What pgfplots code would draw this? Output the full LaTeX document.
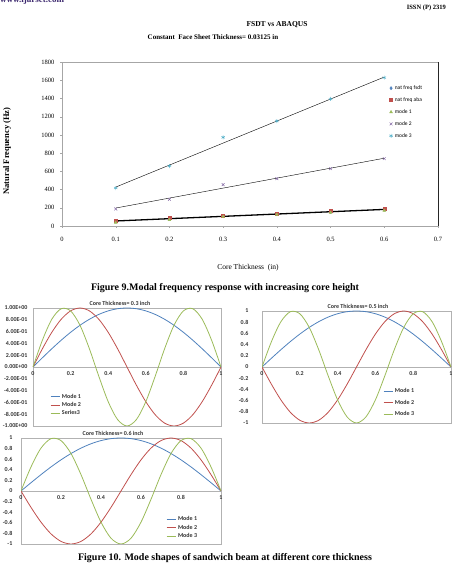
\documentclass[border=0pt]{standalone}
\usepackage{pgfplots}
\pgfplotsset{compat=1.18}
\usepackage{pgfplotstable}
\usepackage{fontspec}
\setmainfont{Liberation Serif}
\newfontfamily\calibri{Carlito}
\definecolor{xblue}{RGB}{79,129,189}
\definecolor{xred}{RGB}{192,80,77}
\definecolor{xgreen}{RGB}{155,187,89}
\definecolor{xpurple}{RGB}{128,100,162}
\definecolor{xcyan}{RGB}{75,172,198}
\definecolor{hdr}{RGB}{60,40,110}

\pgfplotstableread{
x m1 m2a m2b m3
0 0 0 0 0
0.05 0.1564 0.3090 -0.3090 0.4540
0.10 0.3090 0.5878 -0.5878 0.8090
0.15 0.4540 0.8090 -0.8090 0.9877
0.20 0.5878 0.9511 -0.9511 0.9511
0.25 0.7071 1 -1 0.7071
0.30 0.8090 0.9511 -0.9511 0.3090
0.35 0.8910 0.8090 -0.8090 -0.1564
0.40 0.9511 0.5878 -0.5878 -0.5878
0.45 0.9877 0.3090 -0.3090 -0.8910
0.50 1 0 0 -1
0.55 0.9877 -0.3090 0.3090 -0.8910
0.60 0.9511 -0.5878 0.5878 -0.5878
0.65 0.8910 -0.8090 0.8090 -0.1564
0.70 0.8090 -0.9511 0.9511 0.3090
0.75 0.7071 -1 1 0.7071
0.80 0.5878 -0.9511 0.9511 0.9511
0.85 0.4540 -0.8090 0.8090 0.9877
0.90 0.3090 -0.5878 0.5878 0.8090
0.95 0.1564 -0.3090 0.3090 0.4540
1.00 0 0 0 0
}\modes

\pgfplotsset{modeshape/.style={
  scale only axis, anchor=south west,
  xmin=0, xmax=1, ymin=-1, ymax=1,
  axis x line=middle, axis y line=left,
  axis line style={gray!60,-},
  hide obscured x ticks=false,
  xtick={0,0.2,0.4,0.6,0.8,1}, xticklabels={0,0.2,0.4,0.6,0.8,1},
  ytick={-1,-0.8,-0.6,-0.4,-0.2,0,0.2,0.4,0.6,0.8,1},
  tick style={draw=none},
  tick label style={font=\calibri\bfseries\fontsize{6}{7}\selectfont, text=black!80},
  xticklabel style={yshift=1pt},
  axis background/.style={draw=gray!60},
  legend style={draw=none, fill=none, font=\calibri\bfseries\fontsize{6}{7}\selectfont, inner sep=0pt, row sep=0pt, text=black!80},
  legend cell align=left,
  legend image code/.code={\draw[##1] (0pt,0pt) -- (9pt,0pt);},
  every axis plot/.append style={line width=0.8pt, smooth, no marks},
}}

\begin{document}
\begin{tikzpicture}
\useasboundingbox (0pt,0pt) rectangle (451pt,575pt);
% page header
\node[anchor=base west, font=\bfseries\fontsize{9}{10}\selectfont, text=hdr, inner sep=0] at (0pt,572pt) {www.ijarset.com};
\node[anchor=base east, font=\bfseries\fontsize{6.5}{7}\selectfont, inner sep=0] at (446pt,565pt) {ISSN (P) 2319};
% top chart titles
\node[font=\bfseries\fontsize{7.5}{8}\selectfont, inner sep=0] at (277pt,550pt) {FSDT vs ABAQUS};
\node[font=\bfseries\fontsize{7}{8}\selectfont, inner sep=0] at (213pt,538pt) {Constant\ \ Face Sheet Thickness= 0.03125 in};
\node[font=\bfseries\fontsize{8.5}{9}\selectfont, rotate=90, inner sep=0] at (7pt,424pt) {Natural Frequency (Hz)};
\node[font=\fontsize{7.5}{8}\selectfont, inner sep=0] at (248pt,307pt) {Core Thickness\ \ (in)};

\begin{axis}[
  at={(62pt,349pt)}, anchor=south west, scale only axis, width=376pt, height=164pt,
  xmin=0, xmax=0.7, ymin=0, ymax=1800,
  xtick={0,0.1,0.2,0.3,0.4,0.5,0.6,0.7},
  xticklabels={0,0.1,0.2,0.3,0.4,0.5,0.6,0.7},
  ytick={0,200,400,600,800,1000,1200,1400,1600,1800},
  yticklabels={0,200,400,600,800,1000,1200,1400,1600,1800},
  tick label style={font=\fontsize{6.5}{7}\selectfont},
  xticklabel style={yshift=-6pt},
  yticklabel style={xshift=-2pt},
  axis line style={gray!70},
  tick style={gray!70}, tick align=outside, major tick length=2pt,
  xtick pos=bottom, ytick pos=left,
  after end axis/.code={\draw[black!85, line width=0.6pt] (rel axis cs:1,0) -- (rel axis cs:1,1);},
  legend style={at={(0.87,0.87)}, anchor=north west, draw=none, fill=none,
    font=\calibri\fontsize{5.5}{6}\selectfont, row sep=2.6pt, inner sep=0pt},
  legend cell align=left,
]
\addplot[black, line width=0.4pt, forget plot] coordinates {(0.1,427) (0.6,1635)};
\addplot[black, line width=0.4pt, forget plot] coordinates {(0.1,197) (0.6,744)};
\addplot[black, line width=1.3pt, forget plot] coordinates {(0.1,55) (0.6,182)};
\addplot[only marks, mark=diamond*, mark size=1.6pt, color=xblue] coordinates {(0.1,52) (0.2,80) (0.3,107) (0.4,130) (0.5,155) (0.6,180)};
\addplot[only marks, mark=square*, mark size=1.5pt, color=xred] coordinates {(0.1,62) (0.2,90) (0.3,110) (0.4,133) (0.5,165) (0.6,192)};
\addplot[only marks, mark=triangle*, mark size=1.6pt, color=xgreen] coordinates {(0.1,38) (0.2,68) (0.3,103) (0.4,125) (0.5,148) (0.6,170)};
\addplot[only marks, mark=x, mark size=2pt, color=xpurple] coordinates {(0.1,187) (0.2,293) (0.3,454) (0.4,520) (0.5,629) (0.6,739)};
\addplot[only marks, mark=asterisk, mark size=2pt, color=xcyan] coordinates {(0.1,417) (0.2,658) (0.3,973) (0.4,1152) (0.5,1394) (0.6,1628)};
\legend{nat freq fsdt, nat freq aba, mode 1, mode 2, mode 3}
\end{axis}

\node[font=\bfseries\fontsize{10}{11}\selectfont, inner sep=0] at (225pt,287pt) {Figure 9.Modal frequency response with increasing core height};

% chart A
\node[font=\calibri\bfseries\fontsize{6}{7}\selectfont, inner sep=0, text=black!80] at (120pt,272pt) {Core Thickness= 0.3 inch};
\begin{axis}[modeshape, at={(33pt,149pt)}, width=188pt, height=118pt,
  yticklabels={-1.00E+00,-8.00E-01,-6.00E-01,-4.00E-01,-2.00E-01,0.00E+00,2.00E-01,4.00E-01,6.00E-01,8.00E-01,1.00E+00},
  legend style={at={(0.09,0.29)}, anchor=north west, row sep=-1.5pt}]
\addplot[xblue] table[x=x, y=m1] {\modes};
\addplot[xred] table[x=x, y=m2a] {\modes};
\addplot[xgreen] table[x=x, y=m3] {\modes};
\legend{Mode 1, Mode 2, Series3}
\end{axis}

% chart B
\node[font=\calibri\bfseries\fontsize{6}{7}\selectfont, inner sep=0, text=black!80] at (358pt,269pt) {Core Thickness= 0.5 inch};
\begin{axis}[modeshape, at={(262pt,152pt)}, width=189pt, height=112pt,
  yticklabels={-1,-0.8,-0.6,-0.4,-0.2,0,0.2,0.4,0.6,0.8,1},
  yticklabel style={xshift=-8pt},
  legend style={at={(0.64,0.33)}, anchor=north west, row sep=2pt}]
\addplot[xblue] table[x=x, y=m1] {\modes};
\addplot[xred] table[x=x, y=m2b] {\modes};
\addplot[xgreen] table[x=x, y=m3] {\modes};
\legend{Mode 1, Mode 2, Mode 3}
\end{axis}

% chart C
\node[font=\calibri\bfseries\fontsize{6}{7}\selectfont, inner sep=0, text=black!80] at (113pt,142pt) {Core Thickness= 0.6 inch};
\begin{axis}[modeshape, at={(21pt,31pt)}, width=200pt, height=106pt,
  yticklabels={-1,-0.8,-0.6,-0.4,-0.2,0,0.2,0.4,0.6,0.8,1},
  yticklabel style={xshift=-3pt},
  legend style={at={(0.725,0.283)}, anchor=north west, row sep=-1pt}]
\addplot[xblue] table[x=x, y=m1] {\modes};
\addplot[xred] table[x=x, y=m2b] {\modes};
\addplot[xgreen] table[x=x, y=m3] {\modes};
\legend{Mode 1, Mode 2, Mode 3}
\end{axis}

\node[font=\bfseries\fontsize{10}{11}\selectfont, inner sep=0] at (225pt,17pt) {Figure 10. Mode shapes of sandwich beam at different core thickness};
\end{tikzpicture}
\end{document}
